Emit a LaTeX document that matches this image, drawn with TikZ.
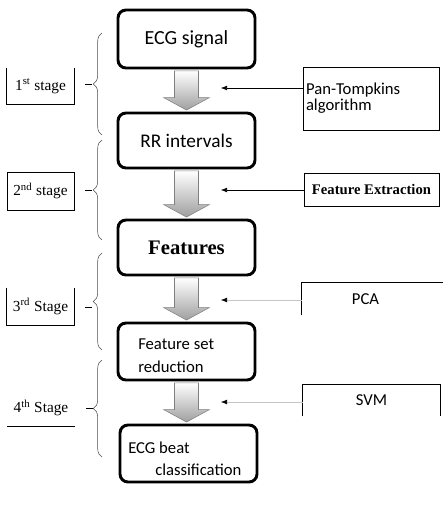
\documentclass[tikz,border=0pt]{standalone}
\usepackage{fontspec}
\setmainfont{Liberation Serif}
\newfontfamily\carlito{Carlito}
\usetikzlibrary{calc,arrows.meta,decorations.pathreplacing}

% block arrow between two stacked boxes
\newcommand{\flowarrow}[2]{%
  \path[flowarrow] ($(#1.south)+(-12,1.5)$) -- ($(#1.south |- #2.north)+(-12,-14)$)
    -- ($(#1.south |- #2.north)+(-23,-14)$) -- ($(#1.south |- #2.north)+(0,-1.5)$)
    -- ($(#1.south |- #2.north)+(23,-14)$) -- ($(#1.south |- #2.north)+(12,-14)$)
    -- ($(#1.south)+(12,1.5)$) -- cycle;}

\begin{document}
\begin{tikzpicture}[x=0.75pt,y=-0.75pt,
  mainbox/.style={draw,line width=2.2pt,rounded corners=6pt,minimum width=137*0.75pt},
  toolbox/.style={minimum width=136*0.75pt,inner sep=2pt},
  stagebox/.style={minimum width=67*0.75pt,minimum height=36*0.75pt,inner sep=0pt,font=\fontsize{11.5}{13}\selectfont},
  stagebrace/.style={decorate,decoration={brace,amplitude=6.5pt},gray!60!black,thin},
  flowarrow/.style={draw=gray,top color=white,bottom color=gray!75,thin},
  feed/.style={-{Latex[length=4.5pt,width=3.5pt]},thin},
  softfeed/.style={-{Latex[black,length=4.5pt,width=3.5pt]},gray!45,thin}]

\useasboundingbox (0,0) rectangle (443,507);

% main flow
\node[mainbox,minimum height=58*0.75pt] (sig) at (186.5,39) {\carlito\fontsize{15}{18}\selectfont ECG signal};
\node[mainbox,minimum height=55*0.75pt] (rr) at (186.5,140.5) {\carlito\fontsize{14.5}{17}\selectfont RR intervals};
\node[mainbox,minimum height=55*0.75pt] (feat) at (186.5,247.5) {\fontsize{15.5}{18}\selectfont\bfseries Features};
\node[mainbox,minimum height=57*0.75pt] (red) at (186.5,351.5) {};
\node[mainbox,minimum height=57*0.75pt] (cls) at (188.5,453.5) {};
\node[anchor=base west,inner sep=0pt] (red1) at (138,349) {\carlito\fontsize{12.5}{15}\selectfont Feature set};
\node[anchor=base west,inner sep=0pt] (red2) at (138,372) {\carlito\fontsize{12.5}{15}\selectfont reduction};
\node[anchor=base west,inner sep=0pt] (cls1) at (128,453) {\carlito\fontsize{12.5}{15}\selectfont ECG beat};
\node[anchor=base west,inner sep=0pt] (cls2) at (155,475) {\carlito\fontsize{12.5}{15}\selectfont classification};

\flowarrow{sig}{rr}
\flowarrow{rr}{feat}
\flowarrow{feat}{red}
\flowarrow{red}{cls}

% methods on the right
\node[toolbox,draw,thin,minimum height=63*0.75pt,text width=130*0.75pt,inner xsep=3*0.75pt,align=left] (pan) at (371,98.5)
  {\carlito\fontsize{12.5}{15}\selectfont Pan-Tompkins\\algorithm};
\node[toolbox,draw,thin,minimum width=135*0.75pt,minimum height=33*0.75pt] (fex) at (371.5,189.5)
  {\fontsize{11}{13}\selectfont\bfseries Feature Extraction};
\node[toolbox,minimum width=141*0.75pt,minimum height=32*0.75pt] (pca) at (372.5,299)
  {\carlito\fontsize{12.5}{15}\selectfont\raisebox{-3pt}{PCA}\hspace*{10.5pt}};
\node[toolbox,minimum width=137*0.75pt,minimum height=31*0.75pt] (svm) at (371.5,400.5)
  {\carlito\fontsize{12.5}{15}\selectfont\raisebox{-4pt}{SVM}};
\draw[thin] (pca.south west) -- (pca.north west) -- (pca.north east);
\draw[thin] (svm.south west) -- (svm.north west) -- (svm.north east) -- (svm.south east);

\coordinate (pantip) at (221,88);
\coordinate (fextip) at (221,190);
\coordinate (pcatip) at (221,300);
\coordinate (svmtip) at (221,402);
\draw[feed] (pan.west |- pantip) -- (pantip);
\draw[feed] (fex.west |- fextip) -- (fextip);
\draw[softfeed] (pca.west |- pcatip) -- (pcatip);
\draw[softfeed] (svm.west |- svmtip) -- (svmtip);

% stages on the left
\node[stagebox] (s1) at (40.5,86) {\raisebox{2pt}{1\textsuperscript{st} stage}};
\node[stagebox,draw,thin,minimum height=38*0.75pt] (s2) at (40.5,191) {2\textsuperscript{nd} stage};
\node[stagebox,minimum height=37*0.75pt] (s3) at (40.5,306.5) {\raisebox{2pt}{3\textsuperscript{rd} Stage}};
\node[stagebox] (s4) at (41,408) {\raisebox{2pt}{4\textsuperscript{th} Stage}};
\draw[thin] (s1.north west) -- (s1.south west) -- (s1.south east) -- (s1.north east);
\draw[thin] (s3.north west) -- (s3.south west) -- (s3.south east) -- (s3.north east);
\draw[thin] (s4.south west) -- (s4.south east);

\draw[stagebrace] (102,135) -- (102,33);
\draw[stagebrace] (102,240) -- (102,140);
\draw[stagebrace] (102,350) -- (102,253);
\draw[stagebrace] (102,457) -- (102,360);
\draw[thin] (85,84) -- (92,84);
\draw[thin] (85,190) -- (92,190);
\draw[thin] (85,307) -- (92,307);
\draw[thin] (86,408) -- (93,408);
\end{tikzpicture}
\end{document}
